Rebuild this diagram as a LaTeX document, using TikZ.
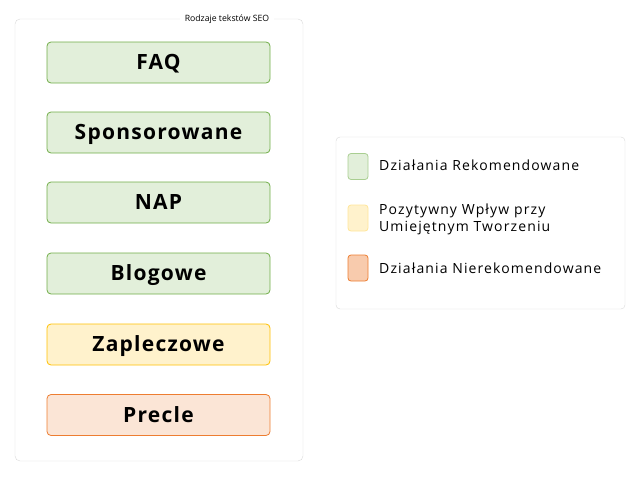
\documentclass[tikz,border=0pt]{standalone}
\usepackage{fontspec}
\setmainfont{Open Sans}
\newfontfamily\boxfont[LetterSpace=6]{Open Sans}
\newfontfamily\keyfont[LetterSpace=8]{Open Sans}
\definecolor{framegray}{HTML}{D9D9D9}
\definecolor{recfill}{HTML}{E2EFDA}
\definecolor{recline}{HTML}{70AD47}
\definecolor{posfill}{HTML}{FFF2CC}
\definecolor{posline}{HTML}{FFC000}
\definecolor{nonfill}{HTML}{FBE5D6}
\definecolor{nonline}{HTML}{ED7D31}
\tikzset{
  kind/.style={rounded corners=4pt, minimum width=223pt, minimum height=41pt, inner sep=0pt, text height=16pt, text depth=2pt, font=\boxfont\bfseries\fontsize{21}{25}\selectfont, line width=0.8pt},
  swatch/.style={rounded corners=3pt, minimum width=20pt, minimum height=26pt, inner sep=0pt, line width=0.8pt},
  keytext/.style={anchor=west, align=left, inner sep=0pt, font=\keyfont\fontsize{14}{17}\selectfont}
}
\begin{document}
\begin{tikzpicture}[x=1pt,y=-1pt]
\useasboundingbox (0,0) rectangle (641,482);
\draw[framegray, rounded corners=5pt] (15,19) rectangle (303,461);
\node[fill=white, inner xsep=5pt, font=\fontsize{8.7}{11}\selectfont] (title) at (227,19) {Rodzaje tekstów SEO};
\node[kind, draw=recline, fill=recfill] (faq) at (158.5,62.5) {FAQ};
\node[kind, draw=recline, fill=recfill] (spons) at (158.5,132.5) {Sponsorowane};
\node[kind, draw=recline, fill=recfill] (nap) at (158.5,202.5) {NAP};
\node[kind, draw=recline, fill=recfill] (blog) at (158.5,273.5) {Blogowe};
\node[kind, draw=posline, fill=posfill] (zapl) at (158.5,344.5) {Zapleczowe};
\node[kind, draw=nonline, fill=nonfill] (precle) at (158.5,415) {Precle};
\draw[framegray, rounded corners=4pt] (336,137) rectangle (625,309);
\node[swatch, draw=recline!60, fill=recfill] (keyrec) at (358,166.5) {};
\node[swatch, draw=posline!40, fill=posfill] (keypos) at (358,218) {};
\node[swatch, draw=nonline, fill=nonline!40] (keynon) at (358,268) {};
\node[keytext] (recname) at (379,165) {Działania Rekomendowane};
\node[keytext] (posname) at (379,219.5) {Pozytywny Wpływ przy\\Umiejętnym Tworzeniu};
\node[keytext] (nonname) at (379,268) {Działania Nierekomendowane};
\end{tikzpicture}
\end{document}
